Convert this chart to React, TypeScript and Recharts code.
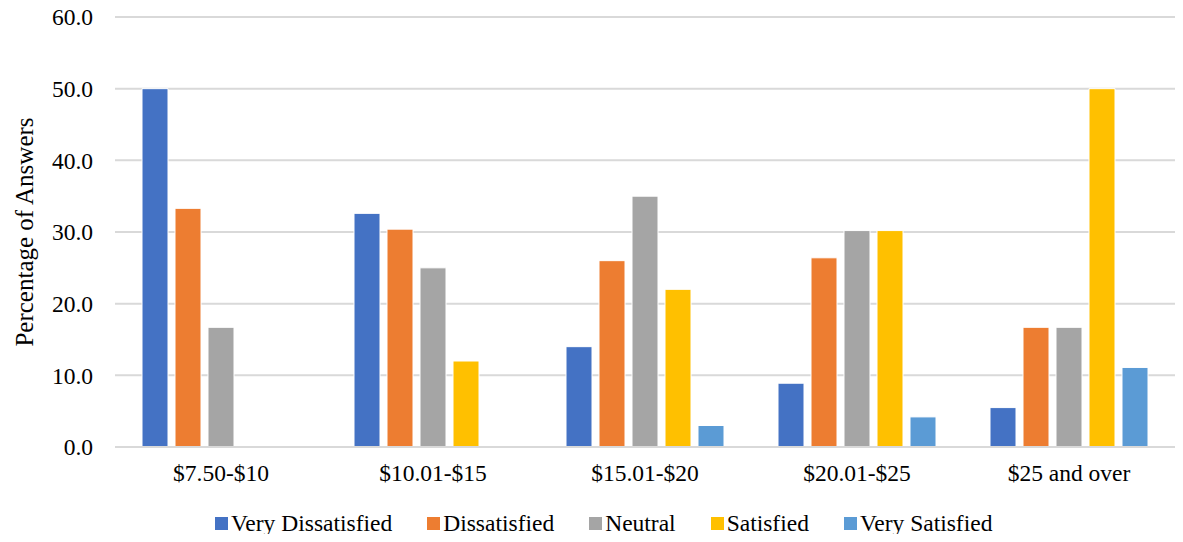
import { Bar, BarChart, CartesianGrid, XAxis, YAxis } from 'recharts';

const wageBands = ['$7.50-$10', '$10.01-$15', '$15.01-$20', '$20.01-$25', '$25 and over'];
const veryDissatisfied = [50.0, 32.6, 14.0, 8.9, 5.5];
const dissatisfied = [33.3, 30.4, 26.0, 26.4, 16.7];
const neutral = [16.7, 25.0, 35.0, 30.2, 16.7];
const satisfied = [0, 12.0, 22.0, 30.2, 50.0];
const verySatisfied = [0, 0, 3.0, 4.2, 11.1];
const yTicks = [0, 10, 20, 30, 40, 50, 60];

const series = [
    { key: 'vd', name: 'Very Dissatisfied', color: '#4472C4' },
    { key: 'd', name: 'Dissatisfied', color: '#ED7D31' },
    { key: 'n', name: 'Neutral', color: '#A5A5A5' },
    { key: 's', name: 'Satisfied', color: '#FFC000' },
    { key: 'vs', name: 'Very Satisfied', color: '#5B9BD5' },
];

const data = wageBands.map((band, i) => ({
    band,
    vd: veryDissatisfied[i],
    d: dissatisfied[i],
    n: neutral[i],
    s: satisfied[i],
    vs: verySatisfied[i],
}));

const font = "'Times New Roman', 'Liberation Serif', 'DejaVu Serif', serif";

export default function App() {
    return (
        <div style={{ margin: -8, position: 'relative', width: 1183, height: 542, fontFamily: font }}>
            <BarChart
                width={1183}
                height={542}
                data={data}
                margin={{ top: 17, right: 8, bottom: 35, left: 0 }}
                barGap={7}
                barCategoryGap={27}
                style={{ fontFamily: font }}
            >
                <CartesianGrid vertical={false} stroke="#d9d9d9" strokeWidth={2} />
                <XAxis
                    dataKey="band"
                    height={60}
                    axisLine={{ stroke: '#d9d9d9', strokeWidth: 2 }}
                    tickLine={false}
                    tickSize={0}
                    tickMargin={17}
                    tick={{ fill: '#000', fontSize: 23.5, fontFamily: font }}
                />
                <YAxis
                    width={115}
                    domain={[0, 60]}
                    ticks={yTicks}
                    tickFormatter={(v: number) => v.toFixed(1)}
                    axisLine={false}
                    tickLine={false}
                    tickSize={0}
                    tickMargin={22}
                    tick={{ fill: '#000', fontSize: 23.5, fontFamily: font }}
                    label={{
                        value: 'Percentage of Answers',
                        angle: -90,
                        position: 'insideLeft',
                        offset: 24,
                        style: { fill: '#000', fontSize: 25, fontFamily: font, textAnchor: 'middle' },
                    }}
                />
                {series.map((s) => (
                    <Bar
                        key={s.key}
                        dataKey={s.key}
                        name={s.name}
                        fill={s.color}
                        stroke="#fff"
                        isAnimationActive={false}
                    />
                ))}
            </BarChart>
            <div
                style={{
                    position: 'absolute',
                    top: 510,
                    left: 215,
                    display: 'flex',
                    gap: 35,
                    fontSize: 23.5,
                    lineHeight: '26px',
                    color: '#000',
                    whiteSpace: 'nowrap',
                }}
            >
                {series.map((s) => (
                    <span key={s.key} style={{ display: 'inline-flex', alignItems: 'center' }}>
                        <span style={{ width: 13, height: 13, background: s.color, marginRight: 3 }} />
                        {s.name}
                    </span>
                ))}
            </div>
        </div>
    );
}
